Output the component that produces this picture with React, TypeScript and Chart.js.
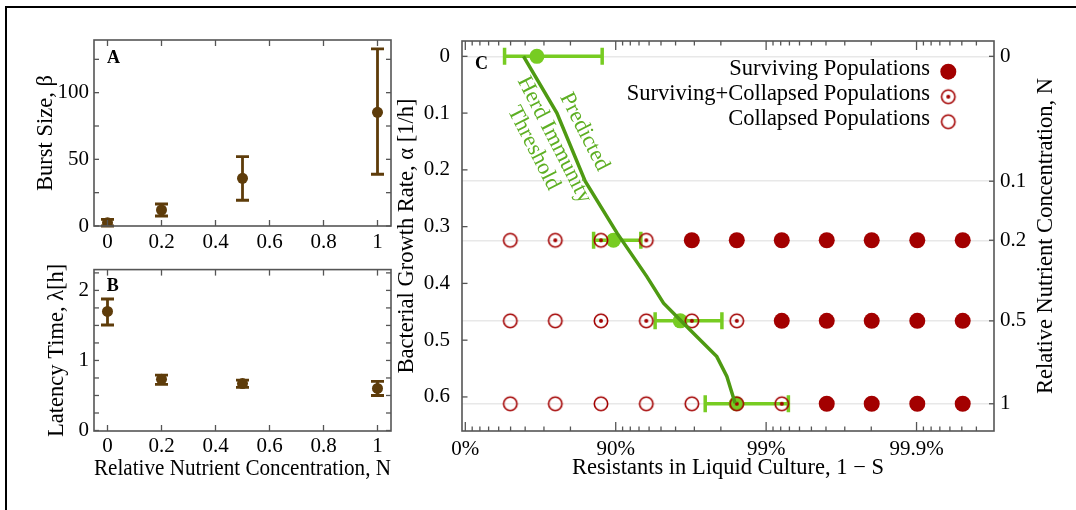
import React, { useEffect, useRef } from 'react';
import { Chart, registerables } from 'chart.js';
Chart.register(...registerables);

const FONT = "'Liberation Serif', 'Times New Roman', serif";
const TITLE_SIZE = 22.5;
const RED = '#a30000';
const BROWN = '#5e3c0a';
const GREEN_PT = '#77cc22';
const GREEN_LINE = '#4e9a12';
const GREEN_TEXT = '#5daf23';
const FRAME = '#555555';
const GRID = '#e8e8e8';

// ---------- Panels A and B ----------
const nutrient = [0, 0.2, 0.5, 1];
const burstSize = [2.5, 12, 35.8, 85.3];
const burstLo = [0, 7.5, 19.3, 38.8];
const burstHi = [5, 16.5, 52, 132.8];
const latency = [1.7, 0.73, 0.67, 0.6];
const latencyLo = [1.506, 0.66, 0.616, 0.5];
const latencyHi = [1.877, 0.79, 0.72, 0.7];

const nTicks = [0, 0.2, 0.4, 0.6, 0.8, 1];
const nTickLabels = ['0', '0.2', '0.4', '0.6', '0.8', '1'];
const burstTicks = [0, 25, 50, 75, 100, 125];
const burstTickLabels = ['0', '', '50', '', '100', ''];
const latencyTicks = [0, 0.25, 0.5, 0.75, 1, 1.25, 1.5, 1.75, 2, 2.25];
const latencyTickLabels = ['0', '', '', '', '1', '', '', '', '2', ''];

// ---------- Panel C ----------
// x coordinate: decades of resistance, -log10(S)
const colResist = [0.299, 0.598, 0.902, 1.203, 1.506, 1.805, 2.104, 2.403, 2.702, 3.005, 3.307];
const rowAlpha = [0, 0.22, 0.324, 0.466, 0.612];
const rowNLabels = ['0', '0.1', '0.2', '0.5', '1'];
// S = surviving, M = surviving+collapsed, C = collapsed
const outcomeN02 = ['C', 'M', 'M', 'M', 'S', 'S', 'S', 'S', 'S', 'S', 'S'];
const outcomeN05 = ['C', 'C', 'M', 'M', 'M', 'M', 'S', 'S', 'S', 'S', 'S'];
const outcomeN1 = ['C', 'C', 'C', 'C', 'C', 'M', 'M', 'S', 'S', 'S', 'S'];

const herdResist = [0.387, 0.609, 0.797, 1.008, 1.207, 1.318, 1.495, 1.672, 1.739, 1.794];
const herdAlpha = [0, 0.1, 0.22, 0.311, 0.388, 0.435, 0.482, 0.529, 0.564, 0.611];

const expAlpha = [0, 0.324, 0.466, 0.612];
const expResist = [0.476, 0.985, 1.429, 1.801];
const expLo = [0.261, 0.853, 1.262, 1.595];
const expHi = [0.91, 1.167, 1.706, 2.148];

const alphaTicks = [0, 0.1, 0.2, 0.3, 0.4, 0.5, 0.6];
const alphaTickLabels = ['0', '0.1', '0.2', '0.3', '0.4', '0.5', '0.6'];
const resistMajorPct = [0, 90, 99, 99.9];
const resistMajorLabels = ['0%', '90%', '99%', '99.9%'];
const resistMinorPct = [10, 20, 30, 40, 50, 60, 70, 80, 91, 92, 93, 94, 95, 96, 97, 98,
  99.1, 99.2, 99.3, 99.4, 99.5, 99.6, 99.7, 99.8, 99.91, 99.92, 99.93, 99.94, 99.95, 99.96];

const legendLabels = ['Surviving Populations', 'Surviving+Collapsed Populations', 'Collapsed Populations'];
const herdLabelLines = ['Predicted', 'Herd Immunity', 'Threshold'];
const herdLabelX = [0.791, 0.591, 0.454];
const herdLabelAlpha = [0.133, 0.147, 0.162];

const toAxis = (pct: number) => -Math.log10(1 - pct / 100);

type Side = 'top' | 'bottom' | 'left' | 'right';
interface TickSet { scale: string; values: number[]; len: number; sides: Side[] }

function fixed(values: number[], labels: string[], padding: number) {
  return {
    afterBuildTicks: (s: any) => { s.ticks = values.map((v) => ({ value: v })); },
    ticks: {
      padding,
      autoSkip: false,
      maxRotation: 0,
      minRotation: 0,
      color: '#000',
      font: { family: FONT, size: 21 },
      callback: (_v: any, i: number) => labels[i],
    },
  };
}

function framePlugin(sets: TickSet[]) {
  return {
    id: 'frameTicks',
    afterDatasetsDraw(chart: any) {
      const { ctx, chartArea: a } = chart;
      ctx.save();
      ctx.strokeStyle = FRAME;
      ctx.lineWidth = 1.3;
      for (const s of sets) {
        const sc = chart.scales[s.scale];
        for (const v of s.values) {
          const p = sc.getPixelForValue(v);
          for (const side of s.sides) {
            ctx.beginPath();
            if (side === 'bottom') { ctx.moveTo(p, a.bottom); ctx.lineTo(p, a.bottom - s.len); }
            if (side === 'top') { ctx.moveTo(p, a.top); ctx.lineTo(p, a.top + s.len); }
            if (side === 'left') { ctx.moveTo(a.left, p); ctx.lineTo(a.left + s.len, p); }
            if (side === 'right') { ctx.moveTo(a.right, p); ctx.lineTo(a.right - s.len, p); }
            ctx.stroke();
          }
        }
      }
      ctx.lineWidth = 1.6;
      ctx.strokeRect(a.left, a.top, a.right - a.left, a.bottom - a.top);
      ctx.restore();
    },
  };
}

interface ErrSpec { xs: number[]; ys: number[]; lo: number[]; hi: number[]; dir: 'x' | 'y'; yScale: string; color: string; width: number; cap: number }
function errorBarPlugin(spec: ErrSpec) {
  return {
    id: 'errorBars',
    beforeDatasetsDraw(chart: any) {
      const { ctx } = chart;
      const xs = chart.scales.x;
      const ys = chart.scales[spec.yScale];
      ctx.save();
      ctx.strokeStyle = spec.color;
      ctx.lineWidth = spec.width;
      ctx.lineCap = 'butt';
      for (let i = 0; i < spec.xs.length; i++) {
        ctx.beginPath();
        if (spec.dir === 'y') {
          const x = xs.getPixelForValue(spec.xs[i]);
          const y1 = ys.getPixelForValue(spec.lo[i]);
          const y2 = ys.getPixelForValue(spec.hi[i]);
          ctx.moveTo(x, y1); ctx.lineTo(x, y2);
          ctx.moveTo(x - spec.cap, y1); ctx.lineTo(x + spec.cap, y1);
          ctx.moveTo(x - spec.cap, y2); ctx.lineTo(x + spec.cap, y2);
        } else {
          const y = ys.getPixelForValue(spec.ys[i]);
          const x1 = xs.getPixelForValue(spec.lo[i]);
          const x2 = xs.getPixelForValue(spec.hi[i]);
          ctx.moveTo(x1, y); ctx.lineTo(x2, y);
          ctx.moveTo(x1, y - spec.cap); ctx.lineTo(x1, y + spec.cap);
          ctx.moveTo(x2, y - spec.cap); ctx.lineTo(x2, y + spec.cap);
        }
        ctx.stroke();
      }
      ctx.restore();
    },
  };
}

function panelLabelPlugin(text: string, dx: number, dy: number) {
  return {
    id: 'panelLabel',
    afterDraw(chart: any) {
      const { ctx, chartArea: a } = chart;
      ctx.save();
      ctx.fillStyle = '#000';
      ctx.font = `bold 18px ${FONT}`;
      ctx.textAlign = 'left';
      ctx.textBaseline = 'alphabetic';
      ctx.fillText(text, a.left + dx, a.top + dy);
      ctx.restore();
    },
  };
}

function makeRing(dot: boolean) {
  const c = document.createElement('canvas');
  c.width = 20; c.height = 20;
  const g = c.getContext('2d')!;
  g.strokeStyle = RED;
  g.lineWidth = 1.6;
  g.beginPath(); g.arc(10, 10, 6.7, 0, Math.PI * 2); g.stroke();
  if (dot) { g.fillStyle = RED; g.beginPath(); g.arc(10, 10, 2, 0, Math.PI * 2); g.fill(); }
  return c;
}

const baseOpts = {
  animation: false as const,
  responsive: false,
  events: [] as any[],
  plugins: { legend: { display: false }, tooltip: { enabled: false } },
};

function titleOpts(text: string, padding: any) {
  return { display: true, text, color: '#000', font: { family: FONT, size: TITLE_SIZE }, padding };
}

function makeA(canvas: HTMLCanvasElement) {
  return new Chart(canvas, {
    type: 'scatter',
    data: { datasets: [{ data: nutrient.map((x, i) => ({ x, y: burstSize[i] })), pointRadius: 5.5, backgroundColor: BROWN, borderWidth: 0 }] },
    options: {
      ...baseOpts,
      layout: { padding: { left: 0, top: 40, right: 49, bottom: 0 } },
      scales: {
        x: { type: 'linear', min: -0.05, max: 1.05, bounds: 'data', grid: { display: false, drawTicks: false }, border: { display: false },
          ...fixed(nTicks, nTickLabels, 4), afterFit: (s: any) => { s.height = 26; } },
        y: { type: 'linear', min: 0, max: 139.5, bounds: 'data', grid: { display: false, drawTicks: false }, border: { display: false },
          ...fixed(burstTicks, burstTickLabels, 5), afterFit: (s: any) => { s.width = 94; },
          title: titleOpts('Burst Size, β', { top: 32.3, bottom: 0 }) },
      },
    } as any,
    plugins: [
      errorBarPlugin({ xs: nutrient, ys: burstSize, lo: burstLo, hi: burstHi, dir: 'y', yScale: 'y', color: BROWN, width: 2.8, cap: 6.5 }),
      framePlugin([
        { scale: 'x', values: nTicks, len: 6, sides: ['top', 'bottom'] },
        { scale: 'y', values: burstTicks, len: 5, sides: ['left', 'right'] },
      ]),
      panelLabelPlugin('A', 13, 23.3),
    ],
  });
}

function makeB(canvas: HTMLCanvasElement) {
  return new Chart(canvas, {
    type: 'scatter',
    data: { datasets: [{ data: nutrient.map((x, i) => ({ x, y: latency[i] })), pointRadius: 5.5, backgroundColor: BROWN, borderWidth: 0 }] },
    options: {
      ...baseOpts,
      layout: { padding: { left: 0, top: 9, right: 49, bottom: 0 } },
      scales: {
        x: { type: 'linear', min: -0.05, max: 1.05, bounds: 'data', grid: { display: false, drawTicks: false }, border: { display: false },
          ...fixed(nTicks, nTickLabels, 3), afterFit: (s: any) => { s.height = 79; },
          title: titleOpts('Relative Nutrient Concentration, N', { top: 0, bottom: 27.2 }) },
        y: { type: 'linear', min: -0.007, max: 2.297, bounds: 'data', grid: { display: false, drawTicks: false }, border: { display: false },
          ...fixed(latencyTicks, latencyTickLabels, 5), afterFit: (s: any) => { s.width = 94; },
          title: titleOpts('Latency Time, λ[h]', { top: 44, bottom: 0 }) },
      },
    } as any,
    plugins: [
      errorBarPlugin({ xs: nutrient, ys: latency, lo: latencyLo, hi: latencyHi, dir: 'y', yScale: 'y', color: BROWN, width: 2.8, cap: 6.5 }),
      framePlugin([
        { scale: 'x', values: nTicks, len: 6, sides: ['top', 'bottom'] },
        { scale: 'y', values: latencyTicks, len: 5, sides: ['left', 'right'] },
      ]),
      panelLabelPlugin('B', 12.7, 21.7),
    ],
  });
}

function makeC(canvas: HTMLCanvasElement) {
  const rows = [
    { alpha: rowAlpha[2], out: outcomeN02 },
    { alpha: rowAlpha[3], out: outcomeN05 },
    { alpha: rowAlpha[4], out: outcomeN1 },
  ];
  const pts = (kind: string) => {
    const r: { x: number; y: number }[] = [];
    rows.forEach((row) => row.out.forEach((o, i) => { if (o === kind) r.push({ x: colResist[i], y: row.alpha }); }));
    return r;
  };
  const ringDot = makeRing(true);
  const ringOpen = makeRing(false);

  const annot = {
    id: 'annotC',
    afterDraw(chart: any) {
      const { ctx, chartArea: a } = chart;
      const xs = chart.scales.x;
      const ys = chart.scales.y;
      ctx.save();
      // panel label
      ctx.fillStyle = '#000';
      ctx.font = `bold 18px ${FONT}`;
      ctx.textAlign = 'left';
      ctx.textBaseline = 'alphabetic';
      ctx.fillText('C', a.left + 13, a.top + 28);
      // legend
      ctx.font = `${TITLE_SIZE}px ${FONT}`;
      ctx.textAlign = 'right';
      const tx = a.right - 64;
      const mx = a.right - 45.7;
      legendLabels.forEach((lab, i) => {
        const base = 75 + i * 25;
        ctx.fillStyle = '#000';
        ctx.fillText(lab, tx, base);
        const my = base - 3.3;
        if (i === 0) {
          ctx.fillStyle = RED;
          ctx.beginPath(); ctx.arc(mx, my, 8, 0, Math.PI * 2); ctx.fill();
        } else {
          const img = i === 1 ? ringDot : ringOpen;
          ctx.drawImage(img, mx - 10, my - 10);
        }
      });
      // herd immunity label
      ctx.fillStyle = GREEN_TEXT;
      ctx.font = `${TITLE_SIZE}px ${FONT}`;
      ctx.textAlign = 'center';
      ctx.textBaseline = 'middle';
      herdLabelLines.forEach((line, i) => {
        ctx.save();
        ctx.translate(xs.getPixelForValue(herdLabelX[i]), ys.getPixelForValue(herdLabelAlpha[i]));
        ctx.rotate((63 * Math.PI) / 180);
        ctx.fillText(line, 0, 0);
        ctx.restore();
      });
      // right axis title
      ctx.fillStyle = '#000';
      ctx.save();
      ctx.translate(a.right + 52, (a.top + a.bottom) / 2);
      ctx.rotate(-Math.PI / 2);
      ctx.fillText('Relative Nutrient Concentration, N', 0, 0);
      ctx.restore();
      ctx.restore();
    },
  };

  return new Chart(canvas, {
    type: 'scatter',
    data: {
      datasets: [
        { type: 'line', data: herdResist.map((x, i) => ({ x, y: herdAlpha[i] })), borderColor: GREEN_LINE, borderWidth: 3.5, pointRadius: 0, fill: false, tension: 0, order: 0 },
        { data: pts('S'), pointRadius: 8, backgroundColor: RED, borderWidth: 0, order: 1 },
        { data: pts('M'), pointStyle: ringDot, pointRadius: 7, order: 1 },
        { data: pts('C'), pointStyle: ringOpen, pointRadius: 7, order: 1 },
        { data: expAlpha.map((y, i) => ({ x: expResist[i], y })), pointRadius: 7.5, backgroundColor: GREEN_PT, borderWidth: 0, order: 2 },
      ],
    },
    options: {
      ...baseOpts,
      layout: { padding: { left: 0, top: 41, right: 0, bottom: 0 } },
      scales: {
        x: { type: 'linear', min: -0.022, max: 3.515, bounds: 'data', grid: { display: false, drawTicks: false }, border: { display: false },
          ...fixed(resistMajorPct.map(toAxis), resistMajorLabels, 6), afterFit: (s: any) => { s.height = 79; },
          title: titleOpts('Resistants in Liquid Culture, 1 − S', { top: 0, bottom: 28.2 }) },
        y: { type: 'linear', reverse: true, min: -0.027, max: 0.66, bounds: 'data', grid: { display: false, drawTicks: false }, border: { display: false },
          ...fixed(alphaTicks, alphaTickLabels, 12), afterFit: (s: any) => { s.width = 70; },
          title: titleOpts('Bacterial Growth Rate, α [1/h]', { top: 1.5, bottom: 0 }) },
        yN: { type: 'linear', position: 'right', reverse: true, min: -0.027, max: 0.66, bounds: 'data',
          grid: { display: true, drawOnChartArea: true, drawTicks: false, color: GRID, lineWidth: 1.5 }, border: { display: false },
          ...fixed(rowAlpha, rowNLabels, 6), afterFit: (s: any) => { s.width = 82; } },
      },
    } as any,
    plugins: [
      errorBarPlugin({ xs: expResist, ys: expAlpha, lo: expLo, hi: expHi, dir: 'x', yScale: 'y', color: GREEN_PT, width: 3.5, cap: 8.5 }),
      framePlugin([
        { scale: 'x', values: resistMajorPct.map(toAxis), len: 9, sides: ['top', 'bottom'] },
        { scale: 'x', values: resistMinorPct.map(toAxis), len: 4.5, sides: ['top', 'bottom'] },
        { scale: 'y', values: alphaTicks, len: 5.5, sides: ['left'] },
        { scale: 'yN', values: rowAlpha, len: 5, sides: ['right'] },
      ]),
      annot,
    ],
  });
}

export default function App() {
  const refA = useRef<HTMLCanvasElement>(null);
  const refB = useRef<HTMLCanvasElement>(null);
  const refC = useRef<HTMLCanvasElement>(null);
  useEffect(() => {
    const charts = [makeA(refA.current!), makeB(refB.current!), makeC(refC.current!)];
    return () => charts.forEach((c) => c.destroy());
  }, []);
  return (
    <div style={{ position: 'absolute', left: 0, top: 0, width: 1076, height: 510, overflow: 'hidden', background: '#fff' }}>
      <div style={{ position: 'absolute', left: 5, top: 6, width: 1100, height: 520, borderTop: '2px solid #000', borderLeft: '2px solid #000' }} />
      <canvas ref={refA} width={440} height={252} style={{ position: 'absolute', left: 0, top: 0 }} />
      <canvas ref={refB} width={440} height={258} style={{ position: 'absolute', left: 0, top: 252 }} />
      <canvas ref={refC} width={684} height={510} style={{ position: 'absolute', left: 392, top: 0 }} />
    </div>
  );
}
